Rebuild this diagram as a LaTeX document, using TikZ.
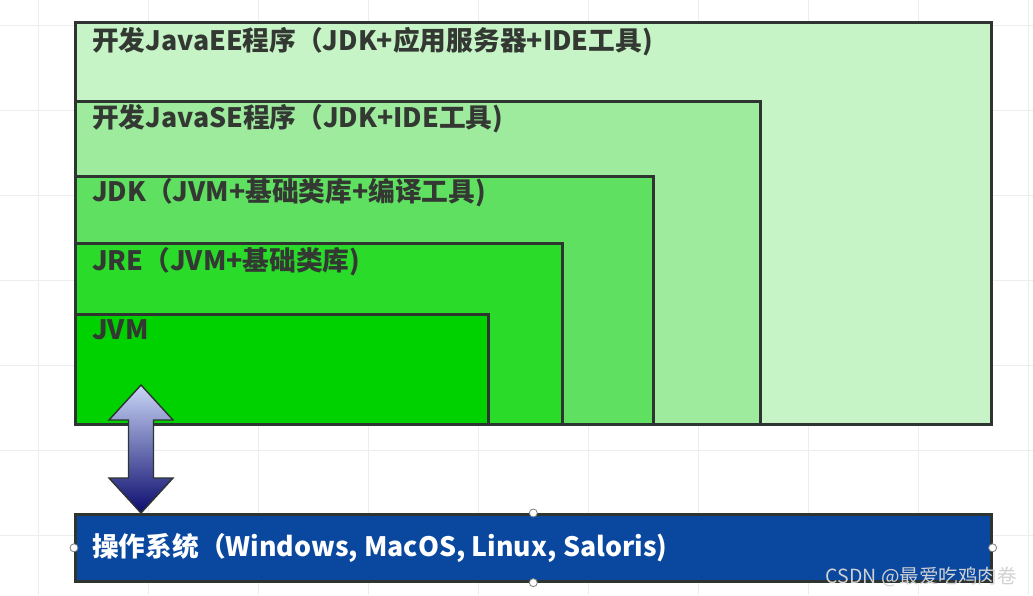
\documentclass[tikz,border=0pt]{standalone}
\usepackage{fontspec}
\newfontfamily\cjk{Noto Sans CJK SC}
\usetikzlibrary{positioning,calc}

\definecolor{eegreen}{HTML}{C6F4C6}
\definecolor{segreen}{HTML}{9EEB9E}
\definecolor{jdkgreen}{HTML}{60E060}
\definecolor{jregreen}{HTML}{2ADB2A}
\definecolor{jvmgreen}{HTML}{00D200}
\definecolor{osblue}{HTML}{0A48A0}
\definecolor{boxline}{HTML}{2E3430}
\definecolor{labeltext}{HTML}{333833}
\definecolor{arrowtop}{HTML}{CAD6F6}
\definecolor{arrowbot}{HTML}{0C0C6E}

\tikzset{
  box/.style={draw=boxline, line width=2.6pt, anchor=north west, inner sep=0pt},
  boxlabel/.style={anchor=west, inner sep=0pt, text=labeltext,
    font=\cjk\bfseries\fontsize{26.7}{27}\selectfont},
  handle/.style={circle, draw=gray, fill=white, line width=0.8pt,
    minimum size=8pt, inner sep=0pt},
  gridline/.style={gray!14, line width=0.6pt},
}

\begin{document}
\begin{tikzpicture}[x=1pt,y=-1pt]
    \useasboundingbox (0,0) rectangle (1033,595);
    \fill[white] (0,0) rectangle (1033,595);

    % 背景网格
    \foreach \x in {38,148,...,1033} \draw[gridline] (\x,0) -- (\x,595);
    \foreach \y in {25,110,...,595} \draw[gridline] (0,\y) -- (1033,\y);

    % 嵌套的方框
    \node[box, fill=eegreen, minimum width=916pt, minimum height=402pt] (ee) at (74,21) {};
    \node[box, fill=segreen, minimum width=685pt, minimum height=323pt] (se) at (74,100) {};
    \node[box, fill=jdkgreen, minimum width=578pt, minimum height=248pt] (jdk) at (74,175) {};
    \node[box, fill=jregreen, minimum width=487pt, minimum height=181pt] (jre) at (74,242) {};
    \node[box, fill=jvmgreen, minimum width=413pt, minimum height=110pt] (jvm) at (74,313) {};

    % 方框标题
    \node[boxlabel] (eelabel) at (92,42) {开发JavaEE程序（JDK+应用服务器+IDE工具)};
    \node[boxlabel] (selabel) at (92,119) {开发JavaSE程序（JDK+IDE工具)};
    \node[boxlabel] (jdklabel) at (92,193) {JDK（JVM+基础类库+编译工具)};
    \node[boxlabel] (jrelabel) at (92,262) {JRE（JVM+基础类库)};
    \node[boxlabel] (jvmlabel) at (92,330) {JVM};

    % 操作系统
    \node[box, fill=osblue, minimum width=916pt, minimum height=67pt] (os) at (74,513) {};
    \node[boxlabel, text=white] (oslabel) at (92,548) {操作系统（Windows, MacOS, Linux, Saloris)};

    % 双向箭头 (渐变)
    \coordinate (tiptop) at (141,385);
    \coordinate (tipbot) at (tiptop |- os.north);
    \shadedraw[top color=arrowtop, bottom color=arrowbot, draw=boxline, line width=1.4pt, line join=miter]
      (tiptop) -- ($(tiptop)+(32,35)$) -- ($(tiptop)+(12.5,35)$)
      -- ($(tipbot)+(12.5,-35)$) -- ($(tipbot)+(32,-35)$) -- (tipbot)
      -- ($(tipbot)+(-32,-35)$) -- ($(tipbot)+(-12.5,-35)$)
      -- ($(tiptop)+(-12.5,35)$) -- ($(tiptop)+(-32,35)$) -- cycle;

    % 选中手柄
    \node[handle] (hn) at (os.north) {};
    \node[handle] (hs) at (os.south) {};
    \node[handle] (hw) at (os.west) {};
    \node[handle] (he) at (os.east) {};

    % 水印
    \node[anchor=east, inner sep=0pt, text=white!82!black,
      font=\cjk\fontsize{19.5}{20}\selectfont] (mark) at (1017,577) {CSDN @最爱吃鸡肉卷};
\end{tikzpicture}
\end{document}
